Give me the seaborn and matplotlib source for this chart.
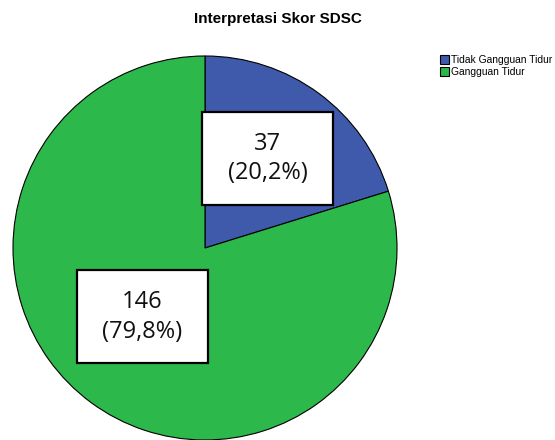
import matplotlib
matplotlib.use("Agg")
import matplotlib.pyplot as plt
from matplotlib.patches import Rectangle
import seaborn as sns
import numpy as np

categories = ["Tidak Gangguan Tidur", "Gangguan Tidur"]
counts = [37, 146]
percent_labels = ["20,2%", "79,8%"]
title = "Interpretasi Skor SDSC"

sns.set_theme(style="white")
plt.rcParams['font.family'] = ['Liberation Sans', 'DejaVu Sans']
plt.rcParams['text.color'] = 'black'
colors = sns.color_palette(["#3f59ab", "#2db84b"])

W, H = 555, 440
fig = plt.figure(figsize=(W / 100, H / 100), dpi=100)
R = 192
cx, cy = 205, 248
ax = fig.add_axes([(cx - R) / W, (H - cy - R) / H, 2 * R / W, 2 * R / H])

wedges, _ = ax.pie(counts, colors=colors, startangle=90, counterclock=False,
                   wedgeprops=dict(edgecolor="black", linewidth=0.8))
ax.set_xlim(-1, 1)
ax.set_ylim(-1, 1)
ax.set_aspect("equal")
ax.axis("off")

# label placement (angle in degrees, radius fraction), box size in radius units
label_pos = [(54.9, 0.570), (227.8, 0.485)]
box_w, box_h = 131 / R, 93 / R
for (ang, r), c, p in zip(label_pos, counts, percent_labels):
    x = r * np.cos(np.radians(ang))
    y = r * np.sin(np.radians(ang))
    ax.add_patch(Rectangle((x - box_w / 2, y - box_h / 2), box_w, box_h,
                           facecolor="white", edgecolor="black",
                           linewidth=1.6, zorder=3))
    ax.text(x, y, f"{c}\n({p})", ha="center", va="center", fontsize=17,
            family=["Open Sans", "DejaVu Sans"], linespacing=1.3,
            color="#111111", zorder=4)

fig.text(0.5, 1 - 19 / H, title, ha="center", va="center",
         fontsize=11, fontweight="bold")

leg = fig.legend(wedges, categories, loc="upper left",
                 bbox_to_anchor=(440 / W, 1 - 55 / H), frameon=False,
                 fontsize=7.4, handlelength=0.9, handleheight=0.9,
                 handletextpad=0.2, borderpad=0, labelspacing=0.2,
                 borderaxespad=0)

fig.savefig("out.png", dpi=100)
